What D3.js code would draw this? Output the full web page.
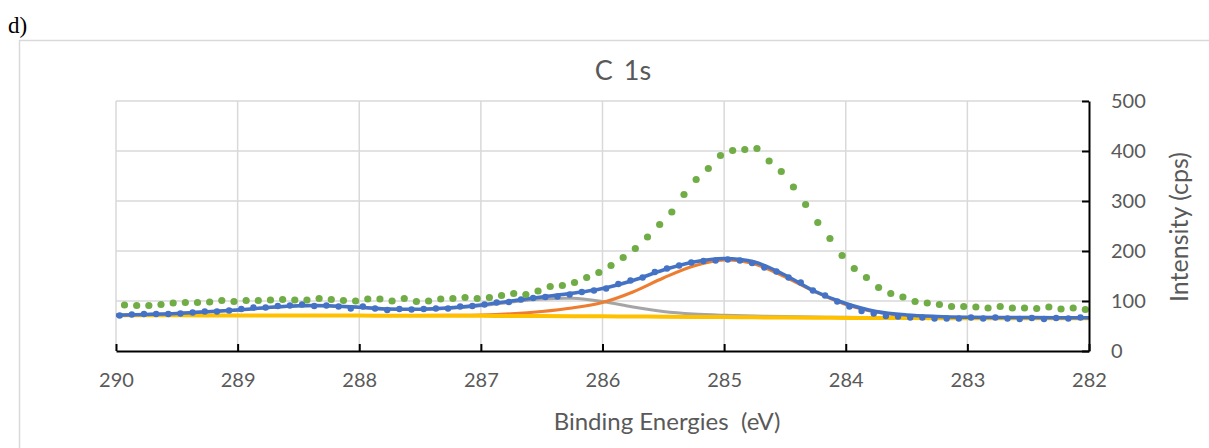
<!DOCTYPE html>
<html lang="en">
<head>
<meta charset="UTF-8">
<title>C 1s</title>
<script src="https://cdn.jsdelivr.net/npm/d3@7"></script>
<style>
    body { margin: 0; background: #fff; }
    svg { display: block; }
    .tick text { font-family: Lato, "Open Sans", sans-serif; font-size: 20px; fill: #595959; }
</style>
</head>
<body>
<div id="chart"></div>
<script>
    var w = 1209, h = 448;

    // raw points, 0.1 eV steps
    var greenEnergy = [
        289.93, 289.83, 289.73, 289.63, 289.53, 289.43, 289.33, 289.23, 289.13, 289.03,
        288.93, 288.83, 288.73, 288.63, 288.53, 288.43, 288.33, 288.23, 288.13, 288.03,
        287.93, 287.83, 287.73, 287.63, 287.53, 287.43, 287.33, 287.23, 287.13, 287.03,
        286.93, 286.83, 286.73, 286.63, 286.53, 286.43, 286.33, 286.23, 286.13, 286.03,
        285.93, 285.83, 285.73, 285.63, 285.53, 285.43, 285.33, 285.23, 285.13, 285.03,
        284.93, 284.83, 284.73, 284.63, 284.53, 284.43, 284.33, 284.23, 284.13, 284.03,
        283.93, 283.83, 283.73, 283.63, 283.53, 283.43, 283.33, 283.23, 283.13, 283.03,
        282.93, 282.83, 282.73, 282.63, 282.53, 282.43, 282.33, 282.23, 282.13, 282.03
    ];
    var greenCounts = [
        92, 91, 91, 93, 96, 97, 97, 98, 101, 99, 101, 101, 102, 103, 102, 102, 105, 103, 101, 100,
        104, 104, 100, 105, 99, 100, 104, 105, 107, 105, 107, 111, 115, 113, 120, 129, 131, 137, 147, 157,
        171, 187, 205, 228, 253, 278, 313, 343, 365, 391, 401, 403, 405, 380, 359, 328, 293, 257, 225, 191,
        165, 147, 127, 115, 108, 99, 96, 93, 89, 89, 88, 86, 89, 86, 86, 85, 88, 84, 86, 83
    ];

    var blueEnergy = [
        289.97, 289.87, 289.77, 289.67, 289.57, 289.47, 289.37, 289.27, 289.17, 289.07,
        288.97, 288.87, 288.77, 288.67, 288.57, 288.47, 288.37, 288.27, 288.17, 288.07,
        287.97, 287.87, 287.77, 287.67, 287.57, 287.47, 287.37, 287.27, 287.17, 287.07,
        286.97, 286.87, 286.77, 286.67, 286.57, 286.47, 286.37, 286.27, 286.17, 286.07,
        285.97, 285.87, 285.77, 285.67, 285.57, 285.47, 285.37, 285.27, 285.17, 285.07,
        284.97, 284.87, 284.77, 284.67, 284.57, 284.47, 284.37, 284.27, 284.17, 284.07,
        283.97, 283.87, 283.77, 283.67, 283.57, 283.47, 283.37, 283.27, 283.17, 283.07,
        282.97, 282.87, 282.77, 282.67, 282.57, 282.47, 282.37, 282.27, 282.17, 282.07
    ];
    var blueCounts = [
        71, 73, 74, 74, 74, 75, 77, 79, 79, 81, 84, 87, 87, 90, 91, 93, 90, 91, 89, 85,
        89, 85, 82, 84, 83, 84, 85, 85, 89, 90, 93, 97, 98, 103, 106, 108, 109, 113, 118, 121,
        125, 134, 141, 147, 158, 165, 171, 177, 180, 181, 183, 181, 176, 167, 159, 147, 137, 121, 111, 99,
        89, 80, 75, 70, 69, 67, 67, 65, 65, 65, 67, 65, 67, 65, 64, 66, 64, 66, 65, 67
    ];

    // fitted curves, 0.25 eV steps
    var fitEnergy = [290, 289.75, 289.5, 289.25, 289, 288.75, 288.5, 288.25, 288, 287.75, 287.5,
        287.25, 287, 286.75, 286.5, 286.25, 286, 285.75, 285.5, 285.25, 285, 284.75, 284.5,
        284.25, 284, 283.75, 283.5, 283.25, 283, 282.75, 282.5, 282.25, 282];
    var envelope = [71.5, 73, 75, 78.5, 82, 87, 90.5, 90.5, 87.5, 84, 83.5, 86.5, 92, 100, 108,
        115.5, 125, 141, 162, 178, 185, 178, 152, 119, 95, 79, 72, 69, 67.5, 67, 66.8, 66.7, 66.6];
    var peakC2 = [71.5, 73, 75, 78.5, 82, 86.5, 90, 90, 87, 83.5, 83, 85.5, 90.5, 98, 104,
        105.5, 99, 88, 79, 74, 71.5, 70, 69, 68, 67.3, 66.8, 66.5, 66.2, 66, 65.8, 65.7, 65.6, 65.5];
    var peakC1 = [71, 71, 71, 71, 71, 71, 71, 71, 71, 71, 71, 71.3, 72, 74.5, 79, 86, 97, 118,
        146, 170, 182, 174, 148, 118, 93, 78, 70.5, 67.5, 66.3, 66, 65.8, 65.7, 65.6];
    var background = [71.5, 71.4, 71.3, 71.2, 71.1, 71, 71, 70.9, 70.8, 70.7, 70.6, 70.5, 70.3,
        70.1, 69.9, 69.6, 69.3, 69, 68.6, 68.2, 67.8, 67.3, 66.9, 66.5, 66.2, 66, 65.8, 65.7,
        65.6, 65.5, 65.5, 65.4, 65.4];

    var xTicks = [290, 289, 288, 287, 286, 285, 284, 283, 282];
    var yTicks = [0, 100, 200, 300, 400, 500];

    var x = d3.scaleLinear().domain([290, 282]).range([116, 1089]);
    var y = d3.scaleLinear().domain([0, 500]).range([351, 101]);

    var svg = d3.select("#chart").append("svg")
        .attr("width", w)
        .attr("height", h);

    svg.append("text")
        .attr("x", 8)
        .attr("y", 33)
        .style("font-family", "'Liberation Serif', 'Times New Roman', serif")
        .style("font-size", "23px")
        .text("d)");

    // chart frame
    svg.append("rect")
        .attr("x", 19.5).attr("y", 40.5)
        .attr("width", 1300).attr("height", 600)
        .attr("fill", "none")
        .attr("stroke", "#d9d9d9")
        .attr("stroke-width", 1.5);

    svg.append("text")
        .attr("x", 623)
        .attr("y", 80)
        .attr("text-anchor", "middle")
        .style("font-family", "Lato, sans-serif")
        .style("font-size", "27px")
        .style("word-spacing", "4px")
        .style("fill", "#595959")
        .text("C 1s");

    // gridlines
    svg.append("g").selectAll("line")
        .data(yTicks.slice(1))
        .enter().append("line")
        .attr("x1", x(290)).attr("x2", x(282))
        .attr("y1", function(d) { return y(d); })
        .attr("y2", function(d) { return y(d); })
        .attr("stroke", "#d9d9d9").attr("stroke-width", 1.5);

    svg.append("g").selectAll("line")
        .data(xTicks.slice(0, -1))
        .enter().append("line")
        .attr("x1", function(d) { return x(d); })
        .attr("x2", function(d) { return x(d); })
        .attr("y1", y(0)).attr("y2", y(500))
        .attr("stroke", "#d9d9d9").attr("stroke-width", 1.5);

    var line = d3.line()
        .x(function(d) { return x(d[0]); })
        .y(function(d) { return y(d[1]); })
        .curve(d3.curveCatmullRom);

    function fitLine(values, color, width) {
        svg.append("path")
            .datum(d3.zip(fitEnergy, values))
            .attr("d", line)
            .attr("fill", "none")
            .attr("stroke", color)
            .attr("stroke-width", width)
            .attr("stroke-linejoin", "round");
    }

    fitLine(peakC2, "#a5a5a5", 3);
    fitLine(peakC1, "#ed7d31", 3);
    fitLine(background, "#ffc000", 4);
    fitLine(envelope, "#4472c4", 3.5);

    svg.append("g").selectAll("circle")
        .data(d3.zip(blueEnergy, blueCounts))
        .enter().append("circle")
        .attr("cx", function(d) { return x(d[0]); })
        .attr("cy", function(d) { return y(d[1]); })
        .attr("r", 3.2)
        .attr("fill", "#4472c4");

    svg.append("g").selectAll("circle")
        .data(d3.zip(greenEnergy, greenCounts))
        .enter().append("circle")
        .attr("cx", function(d) { return x(d[0]); })
        .attr("cy", function(d) { return y(d[1]); })
        .attr("r", 3.6)
        .attr("fill", "#70ad47");

    // axes
    var xAxis = d3.axisBottom(x).tickValues(xTicks).tickSizeInner(-7).tickSizeOuter(0).tickPadding(22);
    var yAxis = d3.axisRight(y).tickValues(yTicks).tickSizeInner(-7).tickSizeOuter(0).tickPadding(22);

    var gx = svg.append("g")
        .attr("transform", "translate(0," + y(0) + ")")
        .call(xAxis);
    var gy = svg.append("g")
        .attr("transform", "translate(" + x(282) + ",0)")
        .call(yAxis);

    [gx, gy].forEach(function(g) {
        g.select(".domain").attr("stroke", "#000").attr("stroke-width", 2);
        g.selectAll(".tick line").attr("stroke", "#000").attr("stroke-width", 2);
    });

    svg.append("text")
        .attr("x", 667)
        .attr("y", 430)
        .attr("text-anchor", "middle")
        .style("font-family", "Lato, sans-serif")
        .style("font-size", "24px")
        .style("white-space", "pre")
        .style("fill", "#595959")
        .text("Binding Energies  (eV)");

    svg.append("text")
        .attr("transform", "translate(1188,227) rotate(-90)")
        .attr("text-anchor", "middle")
        .style("font-family", "Lato, sans-serif")
        .style("font-size", "25px")
        .style("fill", "#595959")
        .text("Intensity (cps)");
</script>
</body>
</html>
